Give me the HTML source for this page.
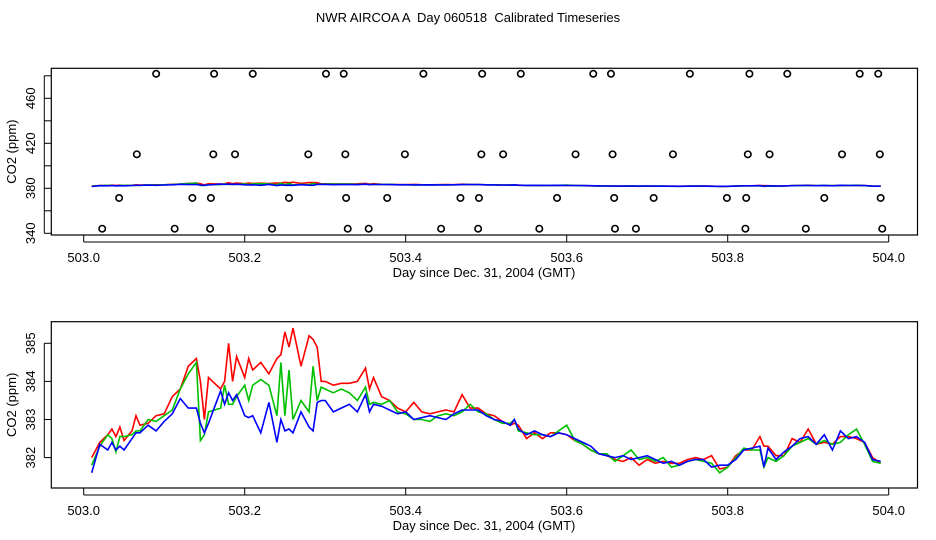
<!DOCTYPE html>
<html><head><meta charset="utf-8"><style>
html,body{margin:0;padding:0;background:#fff}
svg{display:block;font-family:"Liberation Sans",sans-serif}
</style></head><body>
<svg id="c" width="936" height="540" xmlns="http://www.w3.org/2000/svg">
<text x="468" y="22" font-size="13" text-anchor="middle" style="white-space:pre" xml:space="preserve">NWR AIRCOA A  Day 060518  Calibrated Timeseries</text>
</svg>
<script>
const days=[503.01,503.02,503.03,503.035,503.04,503.045,503.05,503.06,503.065,503.07,503.08,503.09,503.10,503.11,503.12,503.13,503.14,503.145,503.15,503.155,503.17,503.175,503.18,503.185,503.19,503.20,503.205,503.21,503.22,503.23,503.24,503.245,503.25,503.255,503.26,503.27,503.28,503.285,503.29,503.295,503.30,503.31,503.32,503.33,503.34,503.35,503.355,503.36,503.37,503.38,503.39,503.40,503.41,503.42,503.43,503.44,503.45,503.46,503.47,503.48,503.49,503.50,503.51,503.52,503.53,503.535,503.54,503.55,503.56,503.57,503.58,503.59,503.60,503.61,503.62,503.63,503.64,503.65,503.66,503.67,503.68,503.69,503.70,503.71,503.72,503.73,503.74,503.75,503.76,503.77,503.78,503.79,503.80,503.81,503.82,503.83,503.84,503.845,503.85,503.86,503.87,503.88,503.89,503.90,503.91,503.92,503.93,503.94,503.95,503.96,503.97,503.98,503.99];
const red=[382.0,382.4,382.6,382.75,382.55,382.8,382.45,382.7,383.1,382.85,382.9,383.1,383.15,383.6,383.8,384.4,384.6,384.0,383.0,384.1,383.8,384.0,385.0,384.0,384.65,384.1,384.6,384.3,384.5,384.2,384.6,384.7,385.3,384.9,385.4,384.4,385.2,385.1,384.9,384.0,384.0,383.9,383.95,383.95,384.0,384.35,383.8,384.1,383.6,383.5,383.3,383.2,383.45,383.2,383.15,383.2,383.25,383.2,383.65,383.3,383.3,383.15,383.1,382.95,382.85,382.9,382.85,382.5,382.65,382.5,382.65,382.65,382.6,382.45,382.35,382.2,382.1,382.05,381.95,381.9,382.0,381.8,381.95,381.85,381.9,381.85,381.85,381.95,382.0,381.95,382.05,381.7,381.75,382.05,382.2,382.2,382.55,382.3,382.3,382.05,382.05,382.5,382.4,382.75,382.35,382.4,382.35,382.55,382.55,382.5,382.4,382.0,381.85];
const green=[381.8,382.3,382.6,382.5,382.15,382.55,382.55,382.6,382.7,382.7,383.0,382.95,383.1,383.25,383.8,384.2,384.5,382.45,382.6,383.2,383.3,383.9,383.4,383.4,383.6,383.9,383.5,383.9,384.05,383.9,383.1,384.5,383.1,384.3,383.0,383.5,383.2,384.4,383.5,383.85,383.8,383.7,383.8,383.7,383.5,383.85,383.4,383.45,383.4,383.5,383.2,383.15,383.0,383.0,382.95,383.1,383.15,383.1,383.2,383.4,383.2,383.15,383.0,382.9,382.9,383.0,382.7,382.65,382.6,382.6,382.55,382.7,382.85,382.45,382.35,382.2,382.1,382.1,381.9,382.05,382.2,381.95,382.0,381.9,382.0,381.75,381.8,381.9,381.95,381.9,381.85,381.6,381.75,382.0,382.25,382.2,382.2,381.75,382.0,381.9,382.05,382.3,382.4,382.5,382.35,382.45,382.35,382.4,382.6,382.75,382.35,381.9,381.85];
const blue=[381.6,382.35,382.2,382.4,382.2,382.3,382.2,382.5,382.65,382.65,382.85,382.7,382.95,383.15,383.55,383.3,383.3,382.9,382.65,382.9,383.75,383.4,383.7,383.5,383.65,383.1,383.05,383.1,382.65,383.45,382.4,383.0,382.7,382.75,382.65,383.2,382.8,382.7,383.45,383.5,383.5,383.2,383.3,383.4,383.2,383.65,383.2,383.4,383.35,383.25,383.15,383.2,383.0,383.05,383.1,383.05,383.0,383.15,383.25,383.25,383.25,383.1,383.0,382.95,382.85,383.0,382.75,382.6,382.7,382.6,382.55,382.65,382.6,382.5,382.4,382.3,382.1,382.05,382.0,382.05,381.95,382.0,382.05,381.95,381.85,381.9,381.8,381.9,381.95,381.95,381.75,381.8,381.8,381.95,382.2,382.25,382.3,381.75,382.25,381.95,382.15,382.3,382.5,382.55,382.35,382.6,382.2,382.7,382.5,382.55,382.4,381.95,381.9];
const flagHigh=[503.090,503.162,503.210,503.301,503.323,503.422,503.495,503.543,503.633,503.655,503.753,503.827,503.874,503.964,503.987];
const flagMid=[503.066,503.161,503.188,503.279,503.325,503.399,503.494,503.521,503.611,503.657,503.732,503.825,503.852,503.942,503.989];
const flagLow=[503.044,503.135,503.158,503.255,503.326,503.377,503.468,503.491,503.588,503.659,503.708,503.799,503.823,503.920,503.990];
const flagMin=[503.023,503.113,503.157,503.234,503.328,503.354,503.444,503.490,503.566,503.660,503.686,503.777,503.822,503.897,503.992];
const flagVals=[481.8,410.2,371.4,344.1];
const xTicks=[503.0,503.2,503.4,503.6,503.8,504.0];
const topYTicks=[340,360,380,400,420,440,460,480];
const topYLabels=[340,380,420,460];
const botYTicks=[382,383,384,385];

const NS="http://www.w3.org/2000/svg";
const svg=document.getElementById('c');
function mk(t,a,p){const e=document.createElementNS(NS,t);for(const k in a)e.setAttribute(k,a[k]);(p||svg).appendChild(e);return e;}
const X=d=>83.7+(d-503)*805;
const L=51.3,R=917.5;

function panel(top,bot,Y,yT,yL,name){
  const g=mk('g',{});
  
  
  const box=mk('rect',{x:L,y:top,width:R-L,height:bot-top,fill:'none',stroke:'#000','stroke-width':1.2},g);
  
  
  xTicks.forEach(v=>{
    const t=mk('line',{x1:X(v),x2:X(v),y1:bot,y2:bot+7,stroke:'#000'},g);
    
    
    const tx=mk('text',{x:X(v),y:bot+27,'font-size':13,'text-anchor':'middle'},g);
    tx.textContent=v.toFixed(1);
    
    
  });
  const xl=mk('line',{x1:X(503),x2:X(504),y1:bot+7,y2:bot+7,stroke:'#000'},g);
  
  
  yT.forEach(v=>{
    const t=mk('line',{x1:L-7,x2:L,y1:Y(v),y2:Y(v),stroke:'#000'},g);
    
    
  });
  const yl=mk('line',{x1:L-7,x2:L-7,y1:Y(yT[0]),y2:Y(yT[yT.length-1]),stroke:'#000'},g);
  
  
  yL.forEach(v=>{
    const tx=mk('text',{x:0,y:0,'font-size':13,'text-anchor':'middle',transform:`translate(35,${Y(v)}) rotate(-90)`},g);
    tx.textContent=v;
    
    
  });
  const xt=mk('text',{x:484,y:bot+42,'font-size':13,'text-anchor':'middle'},g);
  xt.textContent='Day since Dec. 31, 2004 (GMT)';
  
  
  const yt=mk('text',{x:0,y:0,'font-size':13,'text-anchor':'middle',transform:`translate(16,${(top+bot)/2}) rotate(-90)`},g);
  yt.textContent='CO2 (ppm)';
  
  
  [[red,'#ff0000','red'],[green,'#00c000','green'],[blue,'#0000ff','blue']].forEach(([s,c,n])=>{
    const pts=days.map((d,i)=>X(d).toFixed(1)+','+Y(s[i]).toFixed(1)).join(' ');
    const pl=mk('polyline',{points:pts,fill:'none',stroke:c,'stroke-width':1.6},g);
    
    
  });
  return g;
}
const Ytop=v=>233.3-(v-340)*1.125;
const Ybot=v=>343.3-(v-385)*38.1;
const g1=panel(68.3,235,Ytop,topYTicks,topYLabels,'top-panel');
[flagHigh,flagMid,flagLow,flagMin].forEach((arr,k)=>{
  arr.forEach(d=>{
    const c=mk('circle',{cx:X(d),cy:Ytop(flagVals[k]),r:3.2,fill:'none',stroke:'#000','stroke-width':1.6},g1);
    
    
  });
});
panel(321.7,488,Ybot,botYTicks,botYTicks,'bottom-panel');
</script>
</body></html>
